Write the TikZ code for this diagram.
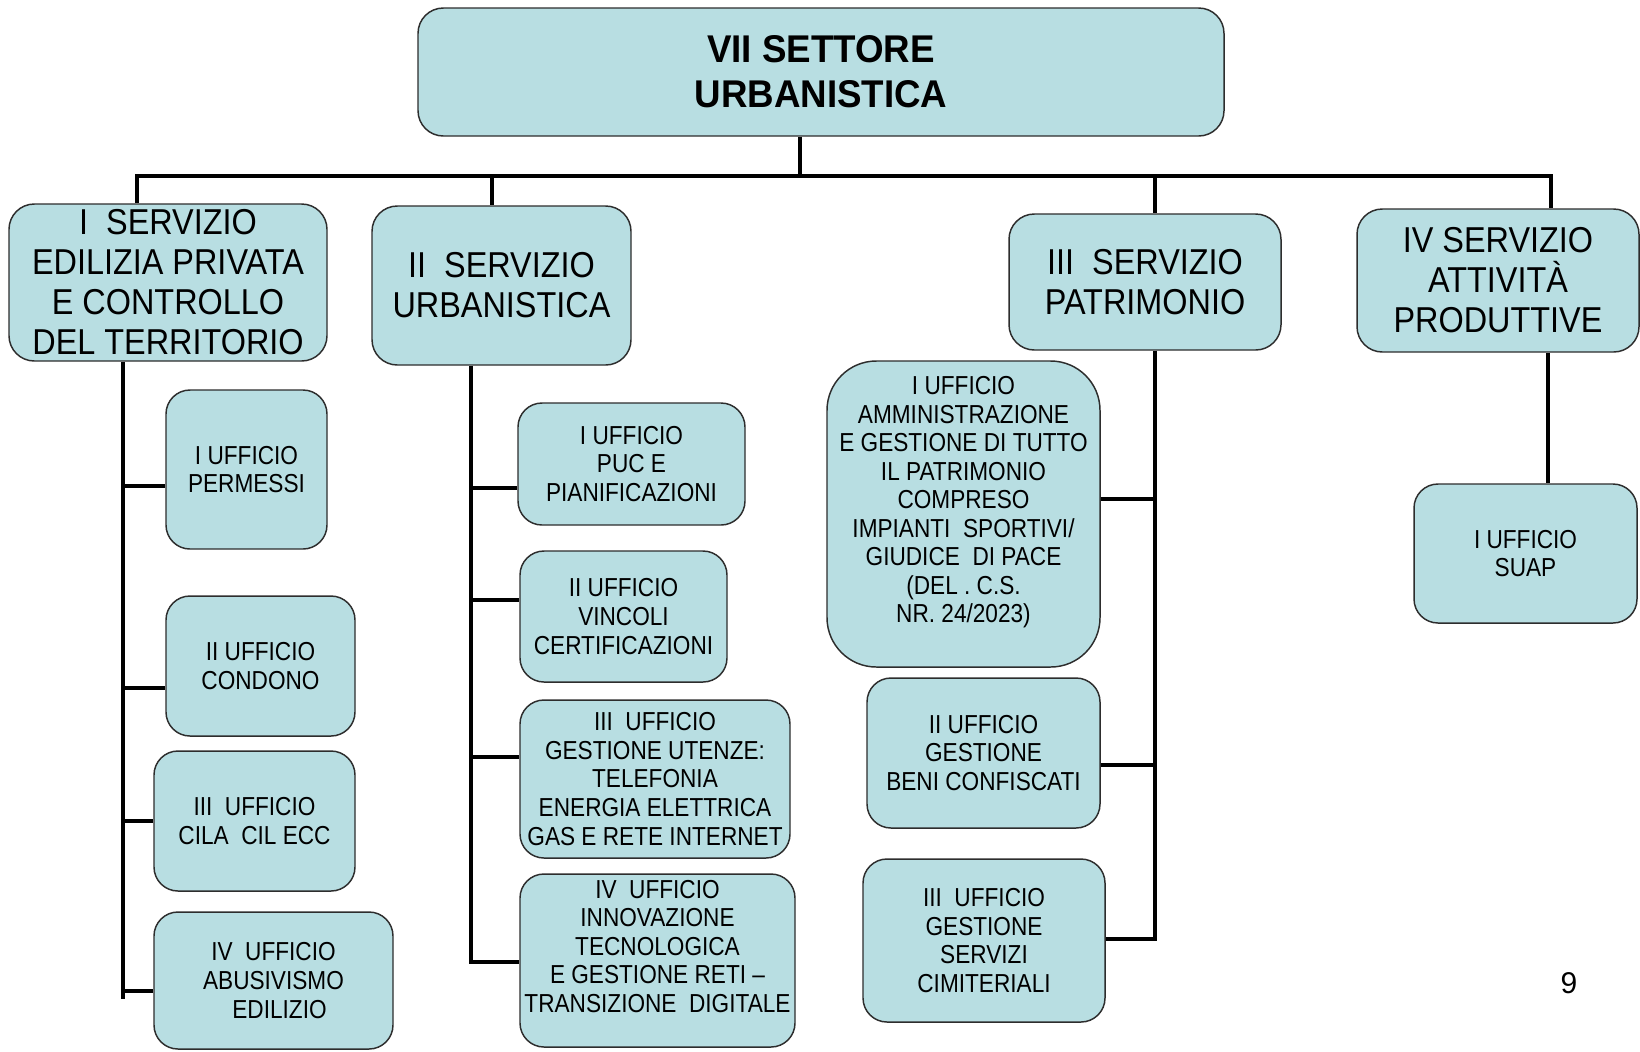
\documentclass[tikz,border=0pt]{standalone}
\usepackage{fontspec}
\setmainfont{Liberation Sans}
\newfontfamily\titlefam{Liberation Sans}[FakeStretch=0.95]
\newfontfamily\servfam{Liberation Sans}[FakeStretch=0.9]
\newfontfamily\offfam{Liberation Sans}[FakeStretch=0.87]
\definecolor{boxfill}{RGB}{184,222,226}
\definecolor{boxline}{RGB}{45,45,45}
\begin{document}
\begin{tikzpicture}[x=0.75pt,y=-0.75pt,
  box/.style={draw=boxline, line width=1.1pt, fill=boxfill, rounded corners=19pt,
              inner sep=0pt, align=center, text=black},
  sz/.style 2 args={minimum width=#1*0.75pt, minimum height=#2*0.75pt},
  titlebox/.style={box, font=\titlefam\bfseries\fontsize{29pt}{34pt}\selectfont},
  servbox/.style={box, font=\servfam\fontsize{27pt}{30pt}\selectfont},
  offbox/.style={box, rounded corners=18pt, font=\offfam\fontsize{19.5pt}{21.4pt}\selectfont},
  conn/.style={line width=3.4pt, black},
  pagenum/.style={font=\fontsize{22.5pt}{26pt}\selectfont, inner sep=0pt}
]
\useasboundingbox (0,0) rectangle (1640,1051);

% top
\node[titlebox, sz={806}{128}] (title) at (821,72) {VII SETTORE\\URBANISTICA};

% services
\node[servbox, sz={318}{157}] (s1) at (168,282.5) {I~~SERVIZIO\\EDILIZIA PRIVATA\\E CONTROLLO\\DEL TERRITORIO};
\node[servbox, sz={259}{159}] (s2) at (501.5,285.5) {II~~SERVIZIO\\URBANISTICA};
\node[servbox, sz={272}{136}] (s3) at (1145,282) {III~~SERVIZIO\\PATRIMONIO};
\node[servbox, sz={282}{143}] (s4) at (1498,280.5) {IV SERVIZIO\\ATTIVITÀ\\PRODUTTIVE};

% offices column 1
\node[offbox, sz={161}{159}] (u11) at (246.5,469.5) {I UFFICIO\\PERMESSI};
\node[offbox, sz={189}{140}] (u12) at (260.5,666) {II UFFICIO\\CONDONO};
\node[offbox, sz={201}{140}] (u13) at (254.5,821) {III~~UFFICIO\\CILA~~CIL ECC};
\node[offbox, sz={239}{137}] (u14) at (273.5,980.5) {IV~~UFFICIO\\ABUSIVISMO\\\hspace*{9pt}EDILIZIO};

% offices column 2
\node[offbox, sz={227}{122}] (u21) at (631.5,464) {I UFFICIO\\PUC E\\PIANIFICAZIONI};
\node[offbox, sz={207}{131}] (u22) at (623.5,616.5) {II UFFICIO\\VINCOLI\\CERTIFICAZIONI};
\node[offbox, sz={270}{158}] (u23) at (655,779) {III~~UFFICIO\\GESTIONE UTENZE:\\TELEFONIA\\ENERGIA ELETTRICA\\GAS E RETE INTERNET};
\node[offbox, sz={275}{173}] (u24) at (657.5,960.5) {IV~~UFFICIO\\INNOVAZIONE\\TECNOLOGICA\\E GESTIONE RETI –\\TRANSIZIONE~~DIGITALE\\\mbox{}};

% offices column 3
\node[offbox, rounded corners=37pt, sz={273}{306}] (u31) at (963.5,514) {I UFFICIO\\AMMINISTRAZIONE\\E GESTIONE DI TUTTO\\IL PATRIMONIO\\COMPRESO\\IMPIANTI~~SPORTIVI/\\GIUDICE~~DI PACE\\(DEL . C.S.\\NR. 24/2023)\\\mbox{}};
\node[offbox, sz={233}{150}] (u32) at (983.5,753) {II UFFICIO\\GESTIONE\\BENI CONFISCATI};
\node[offbox, sz={242}{163}] (u33) at (984,940.5) {III~~UFFICIO\\GESTIONE\\SERVIZI\\CIMITERIALI};

% offices column 4
\node[offbox, sz={223}{139}] (u41) at (1525.5,553.5) {I UFFICIO\\SUAP};

% page number
\node[pagenum] (pg) at (1569,983) {9};

% connector points
\coordinate (tdrop) at (800,176);
\coordinate (barL) at (137,176);
\coordinate (barR) at (1551,176);
\coordinate (d2) at (492,176);
\coordinate (d3) at (1155,176);

\coordinate (c1) at (123,999);
\coordinate (j11) at (123,486);
\coordinate (j12) at (123,688);
\coordinate (j13) at (123,821);
\coordinate (j14) at (123,991);

\coordinate (c2) at (471,962);
\coordinate (j21) at (471,488);
\coordinate (j22) at (471,600);
\coordinate (j23) at (471,757);

\coordinate (c3) at (1155,939);
\coordinate (j31) at (1155,499);
\coordinate (j32) at (1155,765);

\coordinate (c4) at (1548,400);

% top connectors
\draw[conn] (title.south -| tdrop) -- (tdrop);
\draw[conn] (barL |- s1.north) -- (barL) -- (barR) -- (barR |- s4.north);
\draw[conn] (d2) -- (d2 |- s2.north);
\draw[conn] (d3) -- (d3 |- s3.north);

% column 1
\draw[conn] (c1 |- s1.south) -- (c1);
\draw[conn] (j11) -- (j11 -| u11.west);
\draw[conn] (j12) -- (j12 -| u12.west);
\draw[conn] (j13) -- (j13 -| u13.west);
\draw[conn] (j14) -- (j14 -| u14.west);

% column 2
\draw[conn] (c2 |- s2.south) -- (c2) -- (c2 -| u24.west);
\draw[conn] (j21) -- (j21 -| u21.west);
\draw[conn] (j22) -- (j22 -| u22.west);
\draw[conn] (j23) -- (j23 -| u23.west);

% column 3
\draw[conn] (c3 |- s3.south) -- (c3) -- (c3 -| u33.east);
\draw[conn] (j31) -- (j31 -| u31.east);
\draw[conn] (j32) -- (j32 -| u32.east);

% column 4
\draw[conn] (c4 |- s4.south) -- (c4 |- u41.north);
\end{tikzpicture}
\end{document}
